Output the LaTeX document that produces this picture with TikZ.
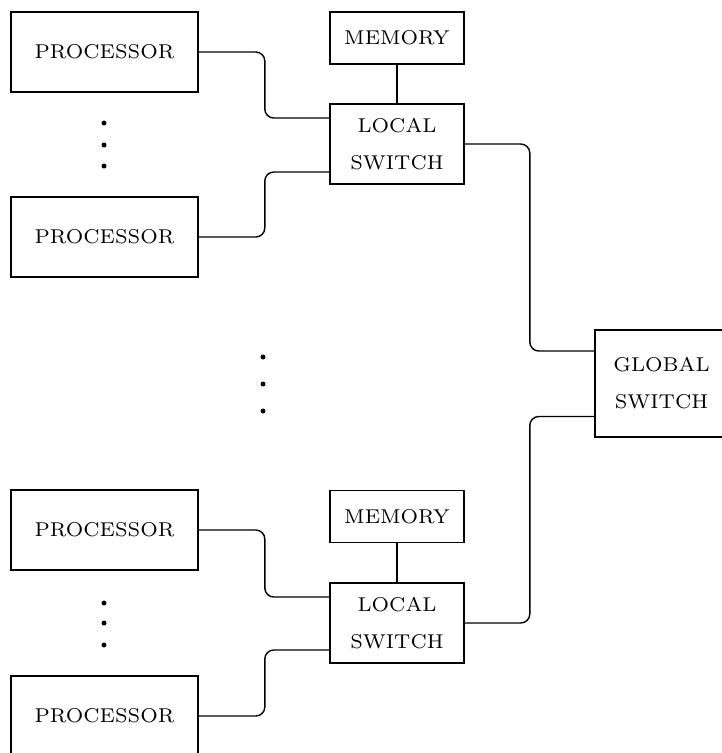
\documentclass[tikz,border=0pt]{standalone}
\usepackage{fontspec}
\newfontfamily\boxfont{lmroman7-regular.otf}
\begin{document}
\begin{tikzpicture}[x=1pt,y=-1pt,
  box/.style={draw,line width=1.6pt,inner sep=0pt,align=center,
    font=\boxfont\fontsize{20}{37}\selectfont},
  conn/.style={line width=1.4pt,rounded corners=9pt},
  dotmark/.style={fill,circle,inner sep=0pt,minimum size=5pt}]
\clip (0,0) rectangle (722,753);
\fill[white] (0,0) rectangle (722,753);
% top group
\node[box,minimum width=187pt,minimum height=80pt] (p1) at (104.5,52) {PROCESSOR};
\node[box,minimum width=187pt,minimum height=80pt] (p2) at (104.5,237) {PROCESSOR};
\node[box,minimum width=134pt,minimum height=52pt] (m1) at (397,38) {MEMORY};
\node[box,minimum width=134pt,minimum height=80pt] (l1) at (397,144) {LOCAL\\SWITCH};
% global
\node[box,minimum width=133pt,minimum height=107pt] (g) at (661.5,383.5) {GLOBAL\\SWITCH};
% bottom group
\node[box,minimum width=187pt,minimum height=80pt] (p3) at (104.5,530) {PROCESSOR};
\node[box,minimum width=187pt,minimum height=80pt] (p4) at (104.5,716) {PROCESSOR};
\node[box,minimum width=134pt,minimum height=52pt] (m2) at (397,516.5) {MEMORY};
\node[box,minimum width=134pt,minimum height=80pt] (l2) at (397,623) {LOCAL\\SWITCH};
% dots
\foreach \y [count=\i] in {123,145,166} \node[dotmark] (da\i) at (104,\y) {};
\foreach \y [count=\i] in {357,384,411} \node[dotmark] (db\i) at (263,\y) {};
\foreach \y [count=\i] in {603,623,645} \node[dotmark] (dc\i) at (104,\y) {};
% connectors
\draw[line width=1.6pt] (m1.south) -- (l1.north);
\draw[line width=1.6pt] (m2.south) -- (l2.north);
\draw[conn] (p1.east) -- ++(66,0) |- ([yshift=26pt]l1.west);
\draw[conn] (p2.east) -- ++(66,0) |- ([yshift=-28pt]l1.west);
\draw[conn] (p3.east) -- ++(66,0) |- ([yshift=26pt]l2.west);
\draw[conn] (p4.east) -- ++(66,0) |- ([yshift=-27pt]l2.west);
\draw[conn] (l1.east) -- ++(65,0) |- ([yshift=32.5pt]g.west);
\draw[conn] (l2.east) -- ++(65,0) |- ([yshift=-33pt]g.west);
\end{tikzpicture}
\end{document}
